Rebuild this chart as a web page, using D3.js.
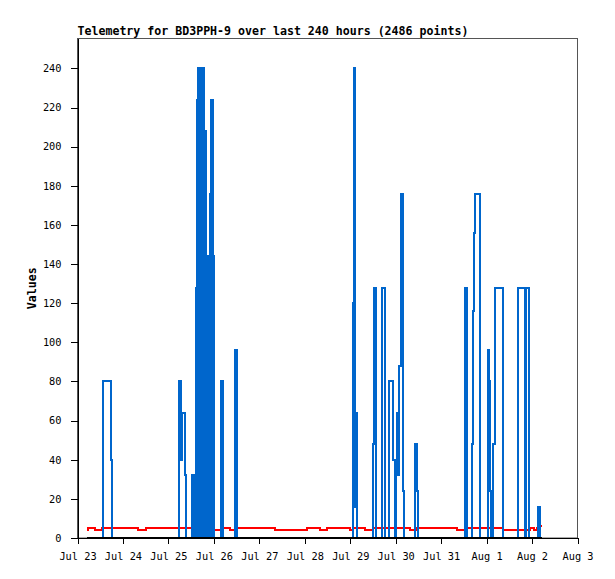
<!DOCTYPE html>
<html>
<head>
<meta charset="utf-8">
<script src="https://cdn.jsdelivr.net/npm/d3@7"></script>
<style>
  body { margin: 0; background: #fff; }
  svg { display: block; }
</style>
</head>
<body>
<div id="chart"></div>
<script>
// hours are counted from Jul 23 00:00
const startDay = Date.UTC(2023, 6, 23);
const dayTicks = ["2023-07-23", "2023-08-03"];
const yTicks = [0, 20, 40, 60, 80, 100, 120, 140, 160, 180, 200, 220, 240];

const titleText = "Telemetry for BD3PPH-9 over last 240 hours (2486 points)";
const yLabel = "Values";

// [hour, value], step series
const blueSeries = [
  [5.2, 0], [13.3, 80], [17.8, 40], [18.4, 0],
  [53.6, 80], [54.5, 40], [55.2, 64], [56.6, 32], [57.1, 0],
  [60.5, 32], [60.9, 0], [61.2, 32], [61.6, 0], [62.0, 24], [62.4, 0],
  [62.7, 128], [63.0, 0], [63.2, 224], [63.5, 0], [63.7, 240], [64.0, 0],
  [64.3, 240], [64.6, 0], [64.8, 216], [65.1, 0], [65.3, 224], [65.6, 0],
  [65.8, 240], [66.1, 0], [66.4, 240], [66.7, 0], [66.9, 208], [67.2, 0],
  [67.5, 208], [67.8, 0], [68.0, 144], [68.3, 0], [68.6, 144], [68.9, 0],
  [69.1, 80], [69.4, 0], [69.7, 80], [70.0, 0], [70.2, 176], [70.5, 0],
  [70.7, 224], [71.0, 0], [71.2, 224], [71.5, 0], [71.7, 144], [72.0, 0],
  [75.9, 80], [76.7, 0],
  [83.3, 96], [84.1, 0],
  [145.5, 120], [146.1, 240], [146.7, 16], [147.2, 64], [147.7, 0],
  [156.0, 48], [156.6, 128], [157.4, 0],
  [160.8, 128], [162.4, 0],
  [164.5, 80], [166.6, 40], [167.4, 0],
  [168.2, 32], [168.7, 64], [169.5, 32], [169.9, 88], [170.8, 176], [171.6, 24], [172.4, 0],
  [178.2, 48], [179.3, 24], [179.8, 0],
  [204.6, 128], [205.6, 0],
  [208.3, 48], [208.8, 116], [209.6, 156], [210.1, 176], [212.4, 0],
  [216.7, 96], [217.2, 80], [217.8, 24], [218.3, 0], [218.7, 24], [219.0, 0],
  [219.4, 48], [220.4, 128], [224.7, 0],
  [232.7, 128], [236.5, 0], [236.9, 128], [238.6, 0],
  [243.3, 16], [244.2, 0], [245.5, 0]
];

const redSeries = [
  [5.2, 4], [5.8, 5], [9.1, 4], [12.9, 5], [32.1, 4], [36.3, 5],
  [71.7, 4], [76.1, 5], [80.5, 4], [83.4, 5], [104.3, 4], [121.0, 5],
  [128.3, 4], [131.9, 5], [143.9, 4], [145.3, 5], [151.8, 4], [156.0, 5],
  [175.6, 4], [179.0, 5], [200.2, 4], [204.6, 5], [224.8, 4], [238.9, 5],
  [241.0, 4], [242.6, 5], [244.2, 6], [245.5, 6]
];

const blackSeries = [[5.2, 0], [245.5, 0]];

const width = 615, height = 579;
const margin = { top: 38.5, right: 37.5, bottom: 41, left: 77.5 };
const w = width - margin.left - margin.right;
const h = height - margin.top - margin.bottom;

const svg = d3.select("#chart").append("svg")
  .attr("width", width)
  .attr("height", height);

const g = svg.append("g")
  .attr("transform", `translate(${margin.left},${margin.top})`);

const x = d3.scaleUtc()
  .domain(dayTicks.map(d => new Date(d + "T00:00:00Z")))
  .range([0, w]);

const y = d3.scaleLinear()
  .domain([0, 255.3])
  .range([h, 0]);

const toDate = hr => new Date(startDay + hr * 3600 * 1000);

const line = d3.line()
  .x(d => x(toDate(d[0])))
  .y(d => y(d[1]))
  .curve(d3.curveStepAfter);

// frame
g.append("rect")
  .attr("width", w)
  .attr("height", h)
  .attr("fill", "none")
  .attr("stroke", "#555")
  .attr("stroke-width", 1);

g.append("path")
  .datum(redSeries)
  .attr("d", line)
  .attr("fill", "none")
  .attr("stroke", "#ff0000")
  .attr("stroke-width", 2)
  .attr("shape-rendering", "crispEdges");

g.append("path")
  .datum(blueSeries)
  .attr("d", line)
  .attr("fill", "none")
  .attr("stroke", "#0066cc")
  .attr("stroke-width", 2)
  .attr("shape-rendering", "crispEdges");

g.append("path")
  .datum(blackSeries)
  .attr("d", line)
  .attr("fill", "none")
  .attr("stroke", "#000")
  .attr("stroke-width", 2)
  .attr("shape-rendering", "crispEdges");

const xAxis = d3.axisBottom(x)
  .ticks(d3.utcDay.every(1))
  .tickFormat(d3.utcFormat("%b %-d"))
  .tickSize(6)
  .tickSizeOuter(0)
  .tickPadding(9);

const gx = g.append("g")
  .attr("transform", `translate(0,${h})`)
  .call(xAxis);

const yAxis = d3.axisLeft(y)
  .tickValues(yTicks)
  .tickSize(7)
  .tickSizeOuter(0)
  .tickPadding(9);

const gy = g.append("g").call(yAxis);

[gx, gy].forEach(ax => {
  ax.selectAll("text")
    .attr("font-family", "'DejaVu Sans Mono', monospace")
    .attr("font-size", "10.3px")
    .attr("fill", "#000");
  ax.selectAll("line, path").attr("stroke", "#000").attr("shape-rendering", "crispEdges");
});

svg.append("text")
  .attr("x", margin.left)
  .attr("y", 35)
  .attr("font-family", "'DejaVu Sans Mono', monospace")
  .attr("font-weight", "bold")
  .attr("font-size", "11.6px")
  .text(titleText);

svg.append("text")
  .attr("transform", `translate(36,${margin.top + h / 2}) rotate(-90)`)
  .attr("text-anchor", "middle")
  .attr("font-family", "'DejaVu Sans Mono', monospace")
  .attr("font-weight", "bold")
  .attr("font-size", "11.6px")
  .text(yLabel);
</script>
</body>
</html>
